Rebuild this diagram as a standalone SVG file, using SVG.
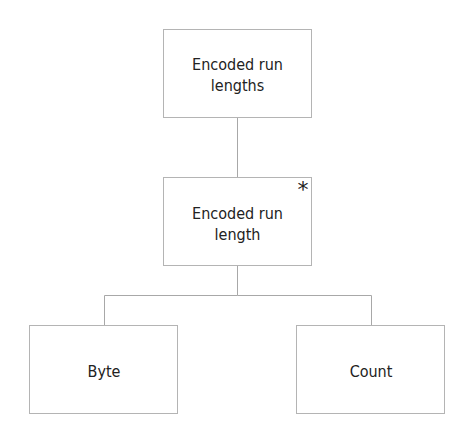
<svg xmlns="http://www.w3.org/2000/svg" width="474" height="444" viewBox="0 0 474 444">
<style>
.box{fill:#fff;stroke:#b4b4b4;stroke-width:1}
.ln{fill:none;stroke:#a8a8a8;stroke-width:1}
.t{font-family:"DejaVu Sans Condensed","DejaVu Sans",Tahoma,sans-serif;font-size:16px;fill:#222;text-anchor:middle}
.star{font-family:"DejaVu Sans",Verdana,sans-serif;font-size:22px;fill:#222;text-anchor:middle}
</style>
<rect width="474" height="444" fill="#fff"/>
<g id="connectors">
<line class="ln" x1="237.5" y1="118" x2="237.5" y2="177"/>
<polyline class="ln" points="237.5,266 237.5,295.5 104.5,295.5 104.5,325"/>
<polyline class="ln" points="237.5,295.5 371.5,295.5 371.5,325"/>
</g>
<g id="n1">
<rect class="box" x="163.5" y="29.5" width="148" height="88"/>
<text class="t" x="237.5" y="70">Encoded run</text>
<text class="t" x="237.5" y="91">lengths</text>
</g>
<g id="n2">
<rect class="box" x="163.5" y="177.5" width="148" height="88"/>
<text class="star" x="303" y="197">*</text>
<text class="t" x="237.5" y="219">Encoded run</text>
<text class="t" x="237.5" y="240">length</text>
</g>
<g id="n3">
<rect class="box" x="29.5" y="325.5" width="148" height="88"/>
<text class="t" x="104" y="377">Byte</text>
</g>
<g id="n4">
<rect class="box" x="296.5" y="325.5" width="148" height="88"/>
<text class="t" x="371" y="377">Count</text>
</g>
</svg>
